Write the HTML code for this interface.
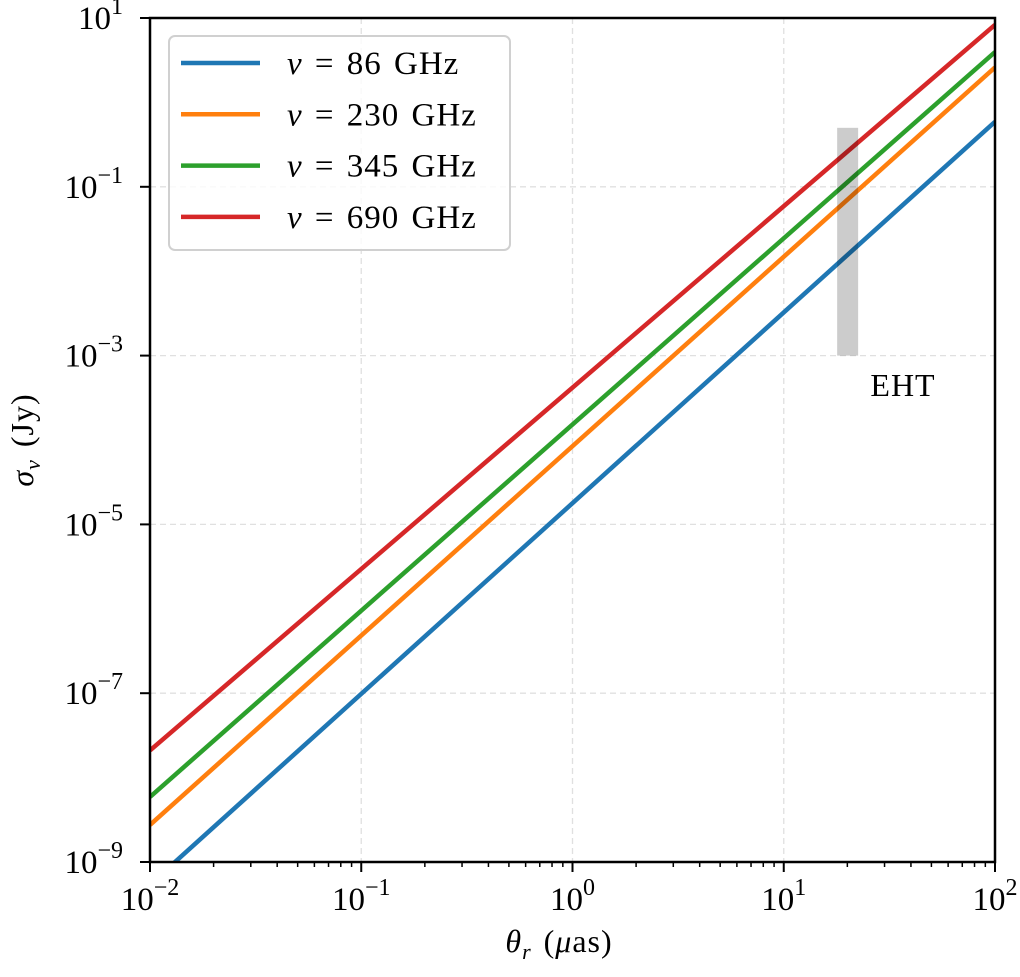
<!DOCTYPE html>
<html><head><meta charset="utf-8"><style>
body{margin:0;background:#fff}
svg text{font-family:"Liberation Serif","DejaVu Serif",serif;fill:#000}
</style></head><body>
<svg width="1020" height="972" viewBox="0 0 1020 972" xmlns="http://www.w3.org/2000/svg">
<g id="grid"></g>
<g id="series"></g>
<g id="band"></g>
<g id="axes"></g>
<g id="legend"></g>
<text x="559" y="952" font-size="32" text-anchor="middle" letter-spacing="1" word-spacing="3"><tspan font-style="italic">θ</tspan><tspan font-style="italic" font-size="22" dy="7">r</tspan><tspan dy="-7"> (</tspan><tspan font-style="italic">μ</tspan><tspan>as)</tspan></text>
<text transform="translate(33,440) rotate(-90)" font-size="32" text-anchor="middle" letter-spacing="1" word-spacing="3"><tspan font-style="italic">σ</tspan><tspan font-style="italic" font-size="22" dy="7">ν</tspan><tspan dy="-7"> (Jy)</tspan></text>
</svg>
<script>
const thetaEnds=[0.01,100];
const seriesNames=["ν = 86 GHz","ν = 230 GHz","ν = 345 GHz","ν = 690 GHz"];
const seriesColors=["#1f77b4","#ff7f0e","#2ca02c","#d62728"];
const blueVals=[5.4e-10,0.59];
const orangeVals=[2.75e-9,2.6];
const greenVals=[5.9e-9,3.95];
const redVals=[2.1e-8,8.3];
const ehtTheta=[17.9,22.5];
const ehtSigma=[1e-3,0.5];
const xTicks=[-2,-1,0,1,2];
const yTicks=[1,-1,-3,-5,-7,-9];

const NS="http://www.w3.org/2000/svg";
const L=150,R=995,T=18,B=862;
const X=v=>L+(Math.log10(v)+2)/4*(R-L);
const Y=v=>T+(1-Math.log10(v))/10*(B-T);
function mk(tag,attrs,parent){const e=document.createElementNS(NS,tag);for(const k in attrs)e.setAttribute(k,attrs[k]);parent.appendChild(e);return e;}
const grid=document.getElementById('grid'),axes=document.getElementById('axes'),ser=document.getElementById('series');
xTicks.forEach(p=>{const x=X(Math.pow(10,p));
 if(p>-2&&p<2){const g=mk('line',{x1:x,x2:x,y1:T,y2:B,stroke:'#e0e0e0','stroke-width':1.3,'stroke-dasharray':'6,4'},grid);}
 const t=mk('line',{x1:x,x2:x,y1:B,y2:B+10,stroke:'#000','stroke-width':2},axes);
 const lb=mk('text',{x:x,y:910,'font-size':33,'text-anchor':'middle'},axes);
 lb.innerHTML='10<tspan font-size="24" dy="-15">'+(p<0?'−'+(-p):p)+'</tspan>';
 if(p<2)for(let m=2;m<10;m++){const xm=X(m*Math.pow(10,p));const mt=mk('line',{x1:xm,x2:xm,y1:B,y2:B+5,stroke:'#000','stroke-width':1.5},axes);}
});
yTicks.forEach(p=>{const y=Y(Math.pow(10,p));
 if(p<1&&p>-9){const g=mk('line',{x1:L,x2:R,y1:y,y2:y,stroke:'#e0e0e0','stroke-width':1.3,'stroke-dasharray':'6,4'},grid);}
 const t=mk('line',{x1:L-10,x2:L,y1:y,y2:y,stroke:'#000','stroke-width':2},axes);
 const lb=mk('text',{x:123,y:y+11,'font-size':33,'text-anchor':'end'},axes);
 lb.innerHTML='10<tspan font-size="24" dy="-15">'+(p<0?'−'+(-p):p)+'</tspan>';
});
const fr=mk('rect',{x:L,y:T,width:R-L,height:B-T,fill:'none',stroke:'#000','stroke-width':2.5},axes);

const cp=mk('clipPath',{id:'clip'},ser);
mk('rect',{x:L,y:T,width:R-L,height:B-T},cp);
[blueVals,orangeVals,greenVals,redVals].forEach((vals,i)=>{
 const pts=thetaEnds.map((t,j)=>X(t)+','+Y(vals[j])).join(' ');
 const pl=mk('polyline',{points:pts,fill:'none',stroke:seriesColors[i],'stroke-width':4.5,'clip-path':'url(#clip)'},ser);
 
});
const band=document.getElementById('band');
const br=mk('rect',{x:X(ehtTheta[0]),y:Y(ehtSigma[1]),width:X(ehtTheta[1])-X(ehtTheta[0]),height:Y(ehtSigma[0])-Y(ehtSigma[1]),fill:'#000','fill-opacity':0.2},band);

const et=mk('text',{x:903,y:396,'font-size':32,'text-anchor':'middle','letter-spacing':1},band);et.textContent='EHT';

const lg=document.getElementById('legend');
const lbx=mk('rect',{x:169,y:36,width:341,height:214,rx:6,fill:'#fff','fill-opacity':0.8,stroke:'#d0d0d0','stroke-width':2},lg);

seriesNames.forEach((n,i)=>{const y=63+i*51.3;
 const g=mk('g',{},lg);
 mk('line',{x1:181,x2:260,y1:y,y2:y,stroke:seriesColors[i],'stroke-width':4.5},g);
 const t=mk('text',{x:287,y:y+11,'font-size':33,'letter-spacing':1,'word-spacing':3},g);
 t.innerHTML='<tspan font-style="italic">ν</tspan> = '+n.split('= ')[1];
});
</script>
</body></html>
